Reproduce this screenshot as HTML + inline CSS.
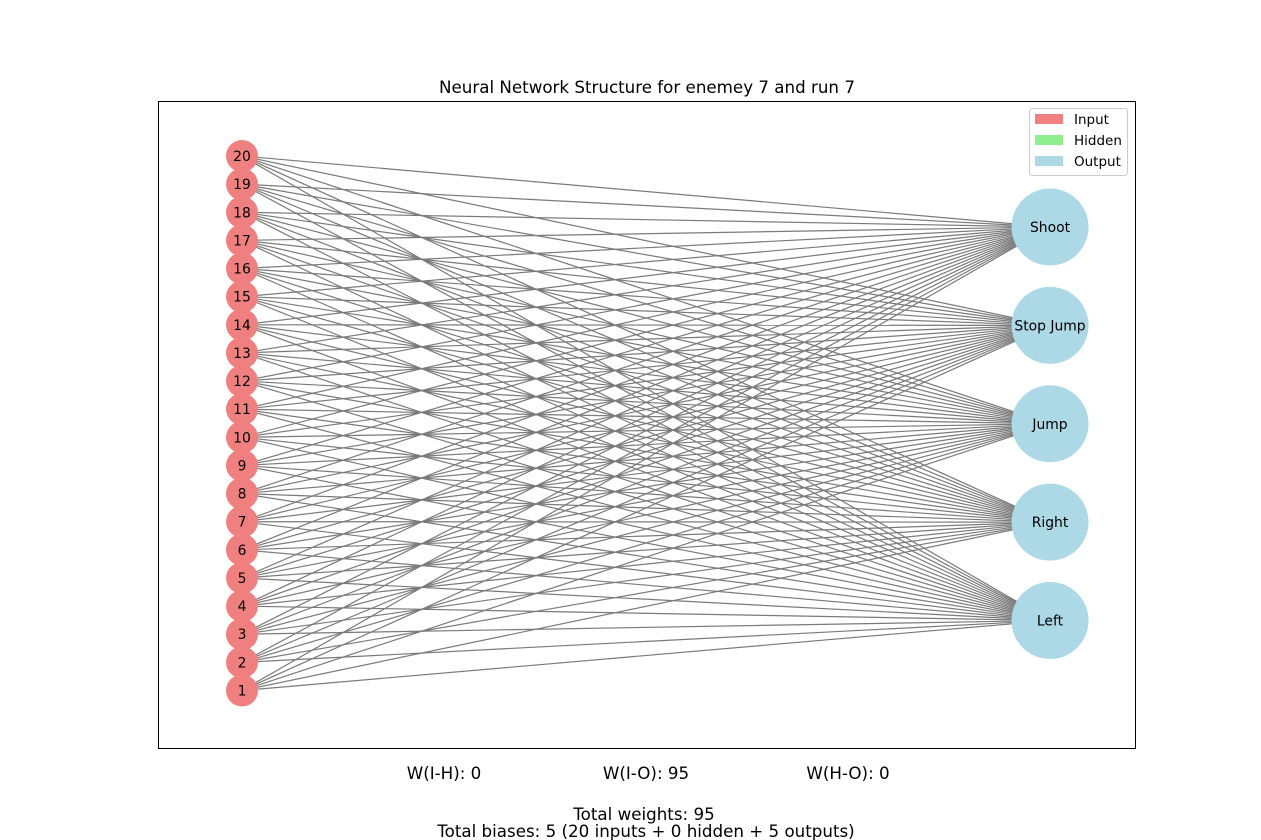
<!DOCTYPE html>
<html><head><meta charset="utf-8"><style>
body{margin:0;background:#fff;}
svg{display:block;font-family:"DejaVu Sans","Liberation Sans",sans-serif;}
</style></head><body>
<svg id="chart" width="1261" height="840" xmlns="http://www.w3.org/2000/svg">
<rect x="0" y="0" width="1261" height="840" fill="#fff"/>
<text x="647" y="93" text-anchor="middle" font-size="16.7">Neural Network Structure for enemey 7 and run 7</text>
<rect x="158.5" y="101.5" width="977" height="647" fill="none" stroke="#000" stroke-width="1"/>
<g id="edges"></g>
<g id="nodes"></g>
<g>
<rect x="1029.5" y="108.5" width="98" height="67" rx="3" fill="#fff" stroke="#ccc"/>
<rect x="1035" y="114" width="28" height="10" fill="#f08080"/>
<text x="1074" y="124" font-size="13.5">Input</text>
<rect x="1035" y="135" width="28" height="10" fill="#90ee90"/>
<text x="1074" y="145" font-size="13.5">Hidden</text>
<rect x="1035" y="156" width="28" height="10" fill="#add8e6"/>
<text x="1074" y="166" font-size="13.5">Output</text>
</g>
<text x="444" y="779" text-anchor="middle" font-size="16.7">W(I-H): 0</text>
<text x="646" y="779" text-anchor="middle" font-size="16.7">W(I-O): 95</text>
<text x="848" y="779" text-anchor="middle" font-size="16.7">W(H-O): 0</text>
<text x="644" y="820" text-anchor="middle" font-size="16.7">Total weights: 95</text>
<text x="646" y="837" text-anchor="middle" font-size="16.7">Total biases: 5 (20 inputs + 0 hidden + 5 outputs)</text>
</svg>
<script>
const inputs = ["1","2","3","4","5","6","7","8","9","10","11","12","13","14","15","16","17","18","19","20"];
const outputs = ["Left","Right","Jump","Stop Jump","Shoot"];
const NS="http://www.w3.org/2000/svg";
function inY(i){return 690.5-(534.5/19)*i;}
function outY(j){return 620.5-(393.5/4)*j;}
const inX=242, outX=1050;
const eg=document.getElementById('edges'), ng=document.getElementById('nodes');
inputs.forEach((a,i)=>{outputs.forEach((b,j)=>{
  const l=document.createElementNS(NS,'line');
  l.setAttribute('x1',inX);l.setAttribute('y1',inY(i));l.setAttribute('x2',outX);l.setAttribute('y2',outY(j));
  l.setAttribute('stroke','#7a7a7a');l.setAttribute('stroke-width','1.2');
  
  
  eg.appendChild(l);
});});
inputs.forEach((a,i)=>{
  const c=document.createElementNS(NS,'circle');
  c.setAttribute('cx',inX);c.setAttribute('cy',inY(i));c.setAttribute('r',16);c.setAttribute('fill','#f08080');
  
  
  ng.appendChild(c);
  const t=document.createElementNS(NS,'text');
  t.setAttribute('x',inX);t.setAttribute('y',inY(i)+5);t.setAttribute('text-anchor','middle');t.setAttribute('font-size','13.9');
  t.textContent=a;
  
  
  ng.appendChild(t);
});
outputs.forEach((b,j)=>{
  const c=document.createElementNS(NS,'circle');
  c.setAttribute('cx',outX);c.setAttribute('cy',outY(j));c.setAttribute('r',38.5);c.setAttribute('fill','#add8e6');
  
  
  ng.appendChild(c);
  const t=document.createElementNS(NS,'text');
  t.setAttribute('x',outX);t.setAttribute('y',outY(j)+5);t.setAttribute('text-anchor','middle');t.setAttribute('font-size','13.9');
  t.textContent=b;
  
  
  ng.appendChild(t);
});
</script>
</body></html>
